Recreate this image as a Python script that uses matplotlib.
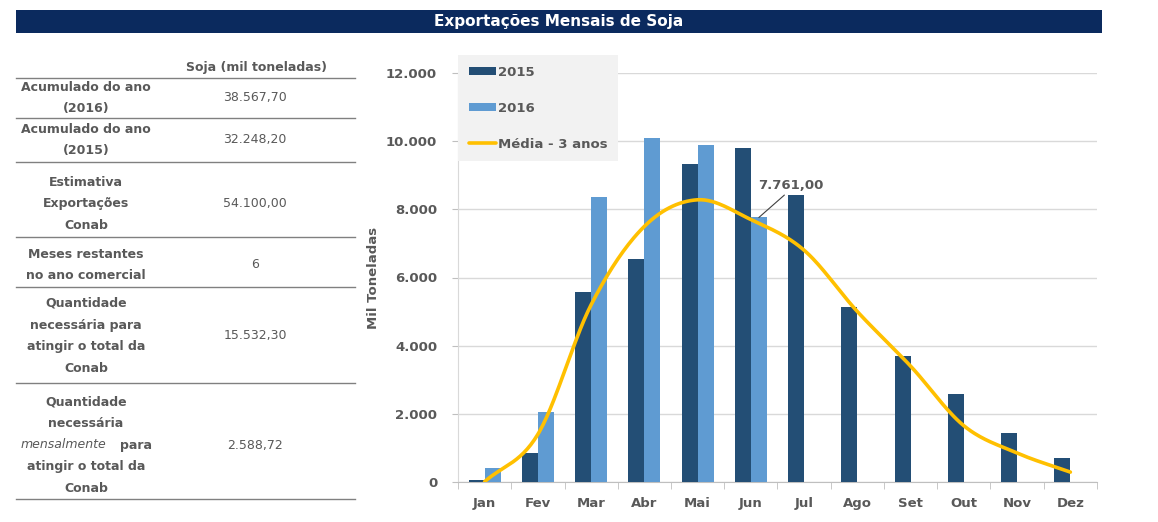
import numpy as np
import matplotlib.pyplot as plt
from matplotlib.patches import Rectangle
from matplotlib.lines import Line2D
from matplotlib.ticker import FuncFormatter

months = ['Jan', 'Fev', 'Mar', 'Abr', 'Mai', 'Jun', 'Jul', 'Ago', 'Set', 'Out', 'Nov', 'Dez']
exp_2015 = [70, 850, 5580, 6540, 9330, 9800, 8420, 5140, 3700, 2580, 1440, 700]
exp_2016 = [400, 2050, 8370, 10080, 9900, 7761]
media_3anos = [10, 1400, 5200, 7500, 8280, 7700, 6800, 5000, 3400, 1650, 850, 290]

table_labels = [
    ['Acumulado do ano', '(2016)'],
    ['Acumulado do ano', '(2015)'],
    ['Estimativa', 'Exportações', 'Conab'],
    ['Meses restantes', 'no ano comercial'],
    ['Quantidade', 'necessária para', 'atingir o total da', 'Conab'],
    ['Quantidade', 'necessária', '*mensalmente* para', 'atingir o total da', 'Conab'],
]
table_values = ['38.567,70', '32.248,20', '54.100,00', '6', '15.532,30', '2.588,72']

W, H = 1158, 522
GREY = '#595959'
C15 = '#234e75'
C16 = '#5f9bd2'
CAVG = '#ffc000'

fig = plt.figure(figsize=(W / 100, H / 100), dpi=100)
renderer = fig.canvas.get_renderer()


def px(x, y):
    return x / W, 1 - y / H


# title bar
fig.add_artist(Rectangle(px(16, 33), (1102 - 16) / W, 23 / H, transform=fig.transFigure,
                         facecolor='#0b2a5e', edgecolor='none'))
fig.text(*px(559, 21.5), 'Exportações Mensais de Soja', color='white', fontsize=11,
         fontweight='bold', ha='center', va='center')

# table on the left
fig.text(*px(256, 67), 'Soja (mil toneladas)', color=GREY, fontsize=9, fontweight='bold',
         ha='center', va='center')
row_lines = [78, 118, 162, 237, 287, 383, 499]
for yl in row_lines:
    fig.add_artist(Line2D([16 / W, 355 / W], [1 - yl / H, 1 - yl / H], transform=fig.transFigure,
                          color='#808080', lw=1))
row_centers = [98, 140, 204, 265, 336, 445]
line_h = 21.7
for labels, val, yc in zip(table_labels, table_values, row_centers):
    n = len(labels)
    for i, lab in enumerate(labels):
        yy = yc + (i - (n - 1) / 2) * line_h
        if lab.startswith('*'):
            # italic word followed by bold text on the same line
            word, rest = lab[1:].split('*')
            t1 = fig.text(*px(0, yy), word, color=GREY, fontsize=9, style='italic',
                          ha='left', va='center')
            t2 = fig.text(*px(0, yy), rest.strip(), color=GREY, fontsize=9, fontweight='bold',
                          ha='left', va='center')
            w1 = t1.get_window_extent(renderer).width
            w2 = t2.get_window_extent(renderer).width
            gap = 14
            x0 = 86 - (w1 + gap + w2) / 2
            t1.set_position(px(x0, yy))
            t2.set_position(px(x0 + w1 + gap, yy))
        else:
            fig.text(*px(86, yy), lab, color=GREY, fontsize=9, fontweight='bold',
                     ha='center', va='center')
    fig.text(*px(255, yc), val, color=GREY, fontsize=9, ha='center', va='center')

# chart
ax = fig.add_axes([458 / W, 1 - 482 / H, (1097 - 458) / W, (482 - 73) / H])
x = np.arange(len(months))
bw = 0.3
b15 = ax.bar(x - bw / 2, exp_2015, bw, color=C15, label='2015', zorder=3)
b16 = ax.bar(x[:len(exp_2016)] + bw / 2, exp_2016, bw, color=C16, label='2016', zorder=3)


def catmull_rom(xs, ys, n=30):
    xs = np.asarray(xs, float)
    ys = np.asarray(ys, float)
    px_ = np.concatenate([[2 * xs[0] - xs[1]], xs, [2 * xs[-1] - xs[-2]]])
    py_ = np.concatenate([[2 * ys[0] - ys[1]], ys, [2 * ys[-1] - ys[-2]]])
    outx, outy = [], []
    for i in range(1, len(px_) - 2):
        t = np.linspace(0, 1, n, endpoint=False)
        for arr, out in ((px_, outx), (py_, outy)):
            p0, p1, p2, p3 = arr[i - 1], arr[i], arr[i + 1], arr[i + 2]
            out.extend(0.5 * (2 * p1 + (-p0 + p2) * t + (2 * p0 - 5 * p1 + 4 * p2 - p3) * t ** 2
                              + (-p0 + 3 * p1 - 3 * p2 + p3) * t ** 3))
    outx.append(xs[-1])
    outy.append(ys[-1])
    return np.array(outx), np.array(outy)


sx, sy = catmull_rom(x, media_3anos)
lavg, = ax.plot(sx, sy, color=CAVG, lw=2.6, label='Média - 3 anos', zorder=4,
                solid_capstyle='round')

ax.set_xlim(-0.5, 11.5)
ax.set_ylim(0, 12000)
ax.set_yticks(np.arange(0, 12001, 2000))
ax.yaxis.set_major_formatter(FuncFormatter(lambda v, p: f'{int(v):,}'.replace(',', '.')))
ax.grid(axis='y', color='#d9d9d9', lw=1, zorder=0)
ax.set_xticks(x)
ax.set_xticklabels(months)
ax.set_xticks(np.arange(-0.5, 12, 1), minor=True)
ax.tick_params(axis='x', which='major', length=0, pad=11)
ax.tick_params(axis='x', which='minor', length=5, color='#bfbfbf')
ax.tick_params(axis='y', length=4, color='#bfbfbf', pad=11)
for lab in ax.get_xticklabels() + ax.get_yticklabels():
    lab.set_color(GREY)
    lab.set_fontweight('bold')
    lab.set_fontsize(9.5)
for s in ['top', 'right']:
    ax.spines[s].set_visible(False)
ax.spines['bottom'].set_color('#bfbfbf')
ax.spines['left'].set_color('#d9d9d9')
ax.set_ylabel('Mil Toneladas', color=GREY, fontsize=9.5, fontweight='bold', labelpad=4)

ax.annotate('7.761,00', xy=(5 + bw / 2, exp_2016[5]), xytext=(5.75, 8500),
            ha='center', va='bottom', color=GREY, fontsize=9.5, fontweight='bold',
            arrowprops=dict(arrowstyle='-', color='#404040', lw=0.8, relpos=(0.45, 0),
                            shrinkA=0, shrinkB=0), zorder=5)

leg = ax.legend([b15, b16, lavg], ['2015', '2016', 'Média - 3 anos'], loc='upper left',
                bbox_to_anchor=px(458, 55), bbox_transform=fig.transFigure,
                borderaxespad=0, frameon=True, fancybox=False, facecolor='#f2f2f2',
                edgecolor='none', framealpha=1, prop={'weight': 'bold', 'size': 9.5},
                labelspacing=1.75, handlelength=2.1, handleheight=0.6, handletextpad=0.15,
                borderpad=0.8)
for t in leg.get_texts():
    t.set_color(GREY)

fig.savefig('out.png', dpi=100)
